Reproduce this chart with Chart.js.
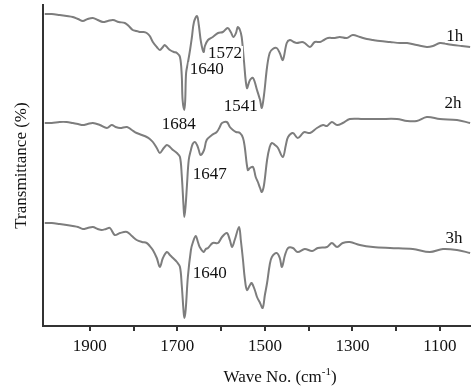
<!DOCTYPE html>
<html><head><meta charset="utf-8">
<script src="https://cdn.jsdelivr.net/npm/chart.js@4/dist/chart.umd.min.js"></script>
<style>html,body{margin:0;padding:0;background:#fff;}#wrap{width:471px;height:387px;}</style>
</head><body><div id="wrap"><canvas id="c" width="471" height="387"></canvas></div>
<script>
// ---- data (wavenumber in cm^-1, transmittance in arbitrary offset units) ----
const wave1h = [2003,1987,1969,1953,1939,1927,1916,1905,1893,1882,1870,1859,1847,1834,1820,1811,1802,1793,1786,1777,1770,1763,1756,1747,1740,1733,1729,1722,1717,1708,1701,1694,1690,1688,1684,1682,1680,1676,1671,1667,1662,1655,1651,1646,1640,1637,1630,1619,1607,1596,1585,1578,1572,1566,1562,1557,1553,1548,1541,1534,1527,1518,1511,1507,1502,1495,1489,1482,1473,1466,1459,1450,1443,1434,1427,1415,1409,1397,1386,1374,1365,1356,1340,1329,1313,1299,1283,1267,1253,1237,1214,1191,1175,1153,1130,1116,1100,1084,1070,1050,1031];
const trans1h = [312,312,311,310,309,307,305,307,308,306,304,305,306,304,303,300,296,295,294,294,293,290,284,279,276,279,281,278,276,274,273,269,251,226,216,226,253,263,276,288,304,310,301,284,274,280,286,289,293,294,298,294,289,293,299,296,289,266,238,246,248,236,226,218,231,259,273,277,278,273,266,283,286,284,283,284,283,279,284,284,286,288,288,289,288,291,289,287,286,285,284,283,283,281,279,280,283,282,281,280,279];

const wave2h = [2003,1987,1969,1953,1939,1927,1916,1905,1893,1877,1861,1850,1841,1831,1815,1804,1793,1781,1770,1763,1756,1747,1740,1731,1724,1717,1710,1701,1694,1690,1686,1684,1681,1678,1674,1669,1665,1660,1655,1651,1647,1639,1633,1621,1610,1603,1598,1587,1580,1573,1566,1557,1550,1546,1539,1534,1527,1521,1516,1511,1507,1502,1495,1489,1484,1477,1470,1459,1452,1447,1436,1425,1413,1409,1397,1381,1367,1358,1347,1335,1322,1306,1276,1237,1198,1175,1153,1130,1100,1061,1031];
const trans2h = [203,203,204,204,203,202,201,202,203,201,198,201,199,198,199,196,193,191,189,187,184,178,173,178,181,179,176,173,169,151,121,109,121,141,166,176,182,184,181,176,171,176,186,191,194,199,203,204,199,196,194,193,188,179,156,158,159,149,144,138,134,141,166,179,183,181,178,169,181,189,193,188,193,194,193,198,201,200,204,201,203,207,207,207,207,205,205,209,207,206,203];

const wave3h = [2003,1987,1969,1953,1939,1927,1916,1905,1893,1882,1873,1863,1854,1843,1831,1815,1804,1793,1781,1770,1763,1756,1747,1740,1733,1724,1717,1710,1701,1694,1690,1686,1684,1681,1676,1669,1665,1658,1653,1649,1640,1635,1630,1619,1607,1598,1587,1580,1575,1569,1559,1555,1550,1546,1541,1534,1530,1523,1518,1511,1505,1500,1495,1489,1484,1473,1466,1461,1454,1447,1436,1425,1409,1392,1379,1358,1347,1335,1322,1306,1283,1253,1214,1162,1123,1093,1061,1031];
const trans3h = [103,103,102,101,100,99,97,98,99,97,96,97,98,91,93,94,90,86,84,83,80,76,68,59,68,74,71,68,64,59,41,16,8,16,49,76,83,90,84,79,74,77,78,83,83,89,93,86,79,86,99,86,66,48,36,41,43,36,29,23,18,31,43,61,69,73,68,59,71,78,78,74,77,75,78,79,83,79,83,84,81,79,78,77,74,77,76,73];

const xTickValues = [1100,1200,1300,1400,1500,1600,1700,1800,1900];
const xTickLabels = [1100,1300,1500,1700,1900];

const labelTexts = ['1640','1572','1684','1541','1647','1640','1h','2h','3h'];
const labelWaves = [1633,1591,1697,1555,1626,1626,1066,1070,1068];
const labelTrans = [257,273,202,220,152,53,290,223,88];

const xTitle = ['Wave No. (cm', '-1', ')'];
const yTitle = 'Transmittance (%)';

// ---- chart ----
const FONT = '"Liberation Serif", "Times New Roman", serif';
const lineStyle = {borderColor:'#7d7d7d', borderWidth:2, pointRadius:0, tension:0.35, fill:false};
const mk = (w,t) => w.map((v,i)=>({x:v, y:t[i]}));

const labelPlugin = {
  id:'peakLabels',
  afterDatasetsDraw(chart){
    const {ctx, scales:{x, y}, chartArea} = chart;
    ctx.save();
    ctx.font = '17px ' + FONT;
    ctx.textAlign = 'center';
    ctx.textBaseline = 'middle';
    labelTexts.forEach((t,i)=>{
      const px = x.getPixelForValue(labelWaves[i]);
      const py = y.getPixelForValue(labelTrans[i]);
      const w = ctx.measureText(t).width;
      ctx.fillStyle = '#fff';
      ctx.fillRect(px - w/2 - 1, py - 7, w + 2, 14);
      ctx.fillStyle = '#111';
      ctx.fillText(t, px, py + 1);
    });
    // x-axis title with superscript
    const big = '17px ' + FONT, small = '11px ' + FONT;
    ctx.textAlign = 'left';
    ctx.textBaseline = 'alphabetic';
    ctx.font = big; const w1 = ctx.measureText(xTitle[0]).width, w3 = ctx.measureText(xTitle[2]).width;
    ctx.font = small; const w2 = ctx.measureText(xTitle[1]).width;
    const cx = chartArea.left + (chartArea.right - chartArea.left) * 0.554;
    const base = chartArea.bottom + 56;
    let sx = cx - (w1 + w2 + w3) / 2;
    ctx.fillStyle = '#111';
    ctx.font = big; ctx.fillText(xTitle[0], sx, base); sx += w1;
    ctx.font = small; ctx.fillText(xTitle[1], sx, base - 7); sx += w2;
    ctx.font = big; ctx.fillText(xTitle[2], sx, base);
    ctx.restore();
  }
};

new Chart(document.getElementById('c'), {
  type: 'line',
  data: {
    datasets: [
      Object.assign({label:'1h', data: mk(wave1h, trans1h)}, lineStyle),
      Object.assign({label:'2h', data: mk(wave2h, trans2h)}, lineStyle),
      Object.assign({label:'3h', data: mk(wave3h, trans3h)}, lineStyle)
    ]
  },
  options: {
    responsive: false,
    animation: false,
    devicePixelRatio: 1,
    layout: {padding: {top:5, right:0, left:0, bottom:0}},
    plugins: {legend:{display:false}, tooltip:{enabled:false}},
    scales: {
      x: {
        type: 'linear', reverse: true, min: 1029, max: 2007,
        afterBuildTicks: s => { s.ticks = xTickValues.map(v => ({value:v})); },
        afterFit: s => { s.height = 61; },
        ticks: {
          autoSkip:false, maxRotation:0, padding:5, color:'#111',
          font:{family:FONT, size:17},
          callback: v => xTickLabels.includes(v) ? String(v) : ''
        },
        grid: {display:true, drawOnChartArea:false, drawTicks:true, tickLength:5, color:'#333', lineWidth:2},
        border: {display:true, color:'#333', width:2}
      },
      y: {
        min: 0, max: 321,
        afterFit: s => { s.width = 43; },
        ticks: {display:false},
        grid: {display:false},
        border: {display:true, color:'#333', width:2},
        title: {display:true, text:yTitle, color:'#111', font:{family:FONT, size:17}, padding:{top:11, bottom:0}}
      }
    }
  },
  plugins: [labelPlugin]
});
</script>
</body></html>
